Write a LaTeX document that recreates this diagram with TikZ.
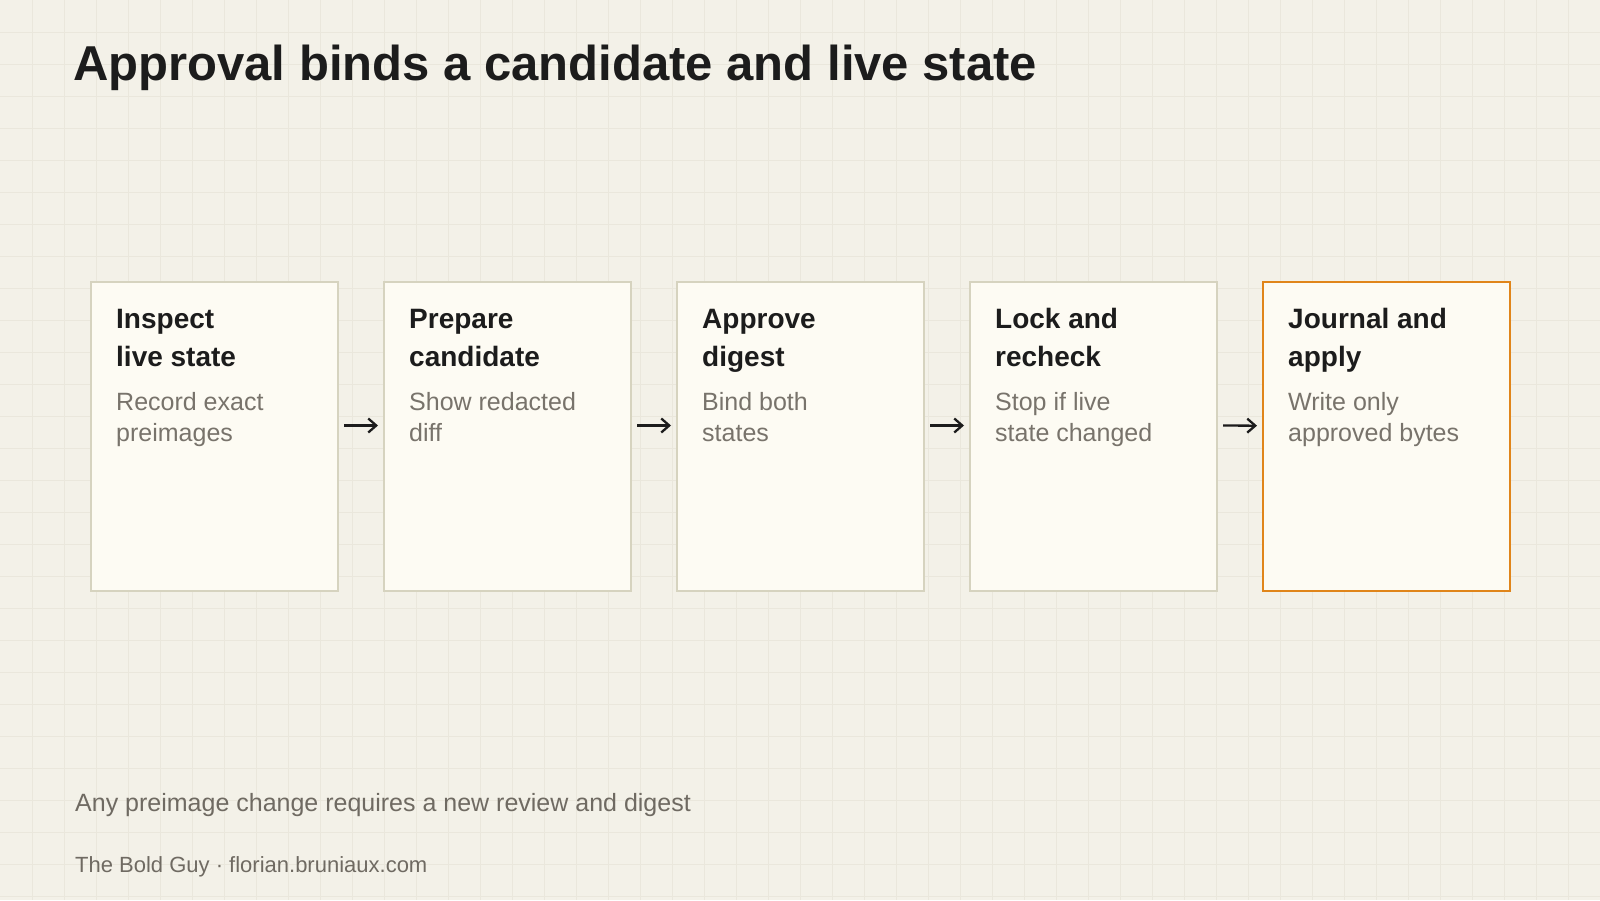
\documentclass[tikz,border=0pt]{standalone}
\usepackage{fontspec}
\setmainfont{Liberation Sans}
\usetikzlibrary{arrows.meta}
\definecolor{bg}{HTML}{F3F1E8}
\definecolor{gridc}{HTML}{EAE7DC}
\definecolor{boxfill}{HTML}{FDFBF3}
\definecolor{boxline}{HTML}{D6D3BF}
\definecolor{accent}{HTML}{E0851A}
\definecolor{ink}{HTML}{1C1C1C}
\definecolor{muted}{HTML}{78736B}
\definecolor{foot}{HTML}{6F6A62}
\tikzset{
  stepbox/.style={draw=boxline, line width=2pt, fill=boxfill, rectangle, inner sep=0pt,
    minimum width=247pt, minimum height=309pt, anchor=north west},
  accentbox/.style={stepbox, draw=accent, line width=2.4pt},
  head/.style={anchor=base west, inner sep=0pt, text=ink, align=left,
    font=\fontsize{28}{37.7}\selectfont\bfseries},
  sub/.style={anchor=base west, inner sep=0pt, text=muted, align=left,
    font=\fontsize{25}{31.3}\selectfont},
  flow/.style={draw=ink, line width=2.3pt, -{Straight Barb[length=8pt,width=14pt,line width=2.3pt]},
    shorten <=5pt, shorten >=5pt},
}
\begin{document}
\begin{tikzpicture}[x=1pt,y=-1pt]
\useasboundingbox (0,0) rectangle (1600,900);
\fill[bg] (0,0) rectangle (1600,900);
\foreach \x in {32,64,...,1599} \draw[gridc,line width=1pt] (\x,0) -- (\x,900);
\foreach \y in {32,64,...,899} \draw[gridc,line width=1pt] (0,\y) -- (1600,\y);

\node[anchor=base west, inner sep=0pt, text=ink, font=\fontsize{49}{58}\selectfont\bfseries] (title) at (73,80) {Approval binds a candidate and live state};

\node[stepbox] (b1) at (90,281) {};
\node[stepbox] (b2) at (383,281) {};
\node[stepbox] (b3) at (676,281) {};
\node[stepbox] (b4) at (969,281) {};
\node[accentbox] (b5) at (1262,281) {};

% multi-line nodes: base anchor sits on the last line
\node[head] (h1) at (116,366) {Inspect\\live state};
\node[sub] (s1) at (116,441.5) {Record exact\\preimages};
\node[head] (h2) at (409,366) {Prepare\\candidate};
\node[sub] (s2) at (409,441.5) {Show redacted\\diff};
\node[head] (h3) at (702,366) {Approve\\digest};
\node[sub] (s3) at (702,441.5) {Bind both\\states};
\node[head] (h4) at (995,366) {Lock and\\recheck};
\node[sub] (s4) at (995,441.5) {Stop if live\\state changed};
\node[head] (h5) at (1288,366) {Journal and\\apply};
\node[sub] (s5) at (1288,441.5) {Write only\\approved bytes};

\draw[flow] ([yshift=11pt]b1.east) -- ([yshift=11pt]b2.west);
\draw[flow] ([yshift=11pt]b2.east) -- ([yshift=11pt]b3.west);
\draw[flow] ([yshift=11pt]b3.east) -- ([yshift=11pt]b4.west);
\draw[flow] ([yshift=11pt]b4.east) -- ([yshift=11pt]b5.west);

\node[anchor=base west, inner sep=0pt, text=foot, font=\fontsize{25}{30}\selectfont] (note) at (75,811) {Any preimage change requires a new review and digest};
\node[anchor=base west, inner sep=0pt, text=foot, font=\fontsize{22}{26}\selectfont] (credit) at (75,872) {The Bold Guy · florian.bruniaux.com};
\end{tikzpicture}
\end{document}
